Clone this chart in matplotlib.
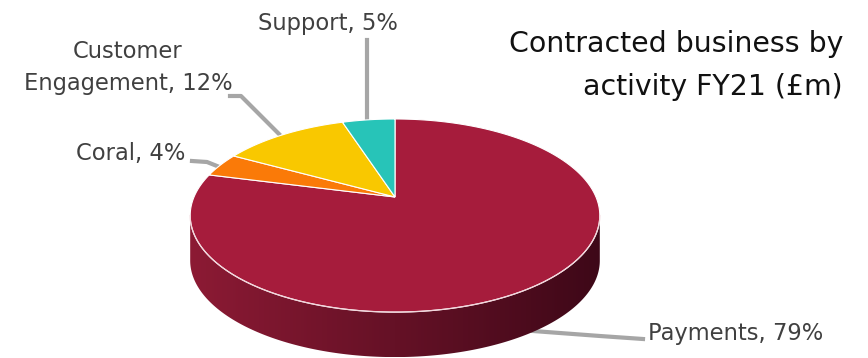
import numpy as np
import matplotlib.pyplot as plt
from matplotlib.patches import Polygon

# data (share of contracted business, %)
labels = ["Payments", "Coral", "Customer\nEngagement", "Support"]
values = [79, 4, 12, 5]
colors = ["#A61C3C", "#FA7A08", "#F9C800", "#27C4B8"]
title = "Contracted business by\nactivity FY21 (£m)"

# pie geometry in pixels (perspective disc)
CX, CY = 395, 197
A, B = 201, 93
P = 0.192
H = 45


def project(x, z):
    w = 1 + P * z
    return CX + A * x / w, CY - B * z / w


def arc(t0, t1, n=200):
    t = np.linspace(t0, t1, n)
    return project(np.cos(t), np.sin(t))


fig = plt.figure(figsize=(8.68, 3.58), dpi=100)
ax = fig.add_axes([0, 0, 1, 1])
ax.set_xlim(0, 868)
ax.set_ylim(358, 0)
ax.axis("off")

# side wall (front half, all Payments)
t_left = np.pi + np.arcsin(P)
t_right = 2 * np.pi - np.arcsin(P)
xs, ys = arc(t_left, t_right)
side = np.column_stack([np.r_[xs, xs[::-1]], np.r_[ys, ys[::-1] + H]])
side_patch = Polygon(side, closed=True, facecolor="none", edgecolor="none")
ax.add_patch(side_patch)
grad = np.linspace(0, 1, 256)[None, :]
c0 = np.array([140, 26, 52]) / 255
c1 = np.array([62, 8, 24]) / 255
img = c0[None, None, :] * (1 - grad[..., None]) + c1[None, None, :] * grad[..., None]
im = ax.imshow(img, extent=[xs.min(), xs.max(), ys.max() + H, ys.min()],
               aspect="auto", zorder=1)
im.set_clip_path(side_patch)

# top face wedges, start at 12 o'clock, clockwise
fracs = np.array(values) / sum(values)
start = 0.0
for frac, col in zip(fracs, colors):
    t0 = np.pi / 2 - 2 * np.pi * start
    t1 = np.pi / 2 - 2 * np.pi * (start + frac)
    ax_, ay_ = arc(t0, t1)
    pts = np.column_stack([np.r_[CX, ax_], np.r_[CY, ay_]])
    ax.add_patch(Polygon(pts, closed=True, facecolor=col, edgecolor="white",
                         linewidth=0.8, zorder=2))
    start += frac

# thin light rim along the front
ax.plot(xs, ys, color="#F2D6DC", lw=0.9, zorder=3)

# leader lines
lc = "#A6A6A6"
ax.plot([367, 367], [40, 118], color=lc, lw=3, zorder=1)
ax.plot([230, 241, 279], [96, 96, 134], color=lc, lw=3, zorder=1)
ax.plot([192, 207, 217], [161, 162, 166], color=lc, lw=3, zorder=1)
ax.plot([533, 600, 643], [331, 336, 339], color=lc, lw=3, zorder=0)

# data labels
tc = "#404040"
fs = 16.3
font = "DejaVu Sans"
ax.text(398, 30, f"Support, {values[3]}%", ha="right", va="baseline",
        fontsize=fs, color=tc, family=font)
ce_lines = f"{labels[2]}, {values[2]}%".split("\n")
for line, yb in zip(ce_lines, [58, 90]):
    ax.text(128, yb, line, ha="center", va="baseline",
            fontsize=fs, color=tc, family=font)
ax.text(185, 160, f"Coral, {values[1]}%", ha="right", va="baseline",
        fontsize=fs, color=tc, family=font)
ax.text(648, 340, f"Payments, {values[0]}%", ha="left", va="baseline",
        fontsize=fs, color=tc, family=font)

# title
for line, yb in zip(title.split("\n"), [52, 95]):
    ax.text(843, yb, line, ha="right", va="baseline", fontsize=20.4,
            color="#111111", family=font)

fig.savefig("out.png", dpi=100)
